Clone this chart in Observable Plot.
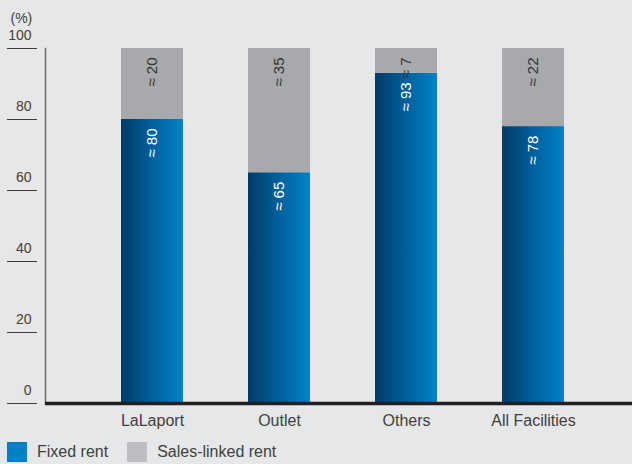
<!DOCTYPE html>
<html>
<head>
<meta charset="utf-8">
<script src="https://cdn.jsdelivr.net/npm/d3@7"></script>
<script src="https://cdn.jsdelivr.net/npm/@observablehq/plot@0.6"></script>
<style>
  html, body { margin: 0; padding: 0; background: #e6e7e8; }
  body { width: 632px; height: 464px; overflow: hidden; font-family: "Liberation Sans", Arial, sans-serif; }
  #chart svg { display: block; background: #e6e7e8; }
  .legend { display: flex; align-items: center; height: 24px; padding-left: 7px; font-size: 16px; color: #404040; }
  .legend .sw { width: 20px; height: 20px; margin-right: 10px; }
  .legend .item { display: flex; align-items: center; margin-right: 19px; }
</style>
</head>
<body>
<div id="chart"></div>
<div class="legend">
  <div class="item"><div class="sw" style="background:#0080c5"></div><span>Fixed rent</span></div>
  <div class="item"><div class="sw" style="background:#bcbec1"></div><span>Sales-linked rent</span></div>
</div>
<script>
const categories = ["LaLaport", "Outlet", "Others", "All Facilities"];
const fixedRent = [80, 65, 93, 78];
const salesLinked = [20, 35, 7, 22];
const yTicks = [0, 20, 40, 60, 80, 100];

const rows = categories.map((c, i) => ({
  cat: c,
  fixed: fixedRent[i],
  sales: salesLinked[i],
  total: fixedRent[i] + salesLinked[i]
}));

const font = "\"Liberation Sans\", Arial, sans-serif";

const svg = Plot.plot({
  width: 632,
  height: 440,
  marginLeft: 45,
  marginRight: 0,
  marginTop: 48,
  marginBottom: 37,
  style: { background: "#e6e7e8", fontFamily: font, color: "#404040" },
  x: { domain: categories, insetLeft: 8, paddingInner: 0.512, paddingOuter: 0.535, label: null },
  y: { domain: [0, 100], label: null },
  marks: [
    Plot.barY(rows, { x: "cat", y1: 0, y2: "fixed", fill: "url(#fixedGrad)" }),
    Plot.barY(rows, { x: "cat", y1: "fixed", y2: "total", fill: "#a7a9ac" }),
    Plot.text(rows, { x: "cat", y: "fixed", text: d => "\u2248 " + d.fixed, rotate: -90, textAnchor: "end", dy: 9, fill: "white", fontSize: 15 }),
    Plot.text(rows, { x: "cat", y: "total", text: d => "\u2248 " + d.sales, rotate: -90, textAnchor: "end", dy: 9, fill: "#333333", fontSize: 15 }),
    Plot.frame({ anchor: "left", stroke: "#6d6e70", strokeWidth: 1.5 }),
    Plot.ruleY([0], { stroke: "#231f20", strokeWidth: 3.5 }),
    Plot.axisY(yTicks, { tickSize: 30, dx: -8, stroke: "#3a3a3a", strokeWidth: 1, tickFormat: () => "", label: null }),
    Plot.axisY(yTicks, { tickSize: 0, tickPadding: 14, dy: -13, fontSize: 14, fill: "#404040", label: null }),
    Plot.axisX({ tickSize: 0, tickPadding: 11, fontSize: 16, fill: "#404040", label: null }),
    Plot.text(["(%)"], { frameAnchor: "top-left", text: d => d, dx: -35, dy: -35, textAnchor: "start", fontSize: 14, fill: "#404040" })
  ]
});

const defs = d3.select(svg).insert("defs", ":first-child");
const g = defs.append("linearGradient").attr("id", "fixedGrad").attr("x1", "0").attr("x2", "1").attr("y1", "0").attr("y2", "0");
g.append("stop").attr("offset", "0").attr("stop-color", "#003b66");
g.append("stop").attr("offset", "0.5").attr("stop-color", "#00609c");
g.append("stop").attr("offset", "1").attr("stop-color", "#0082c8");

document.getElementById("chart").appendChild(svg);
</script>
</body>
</html>
